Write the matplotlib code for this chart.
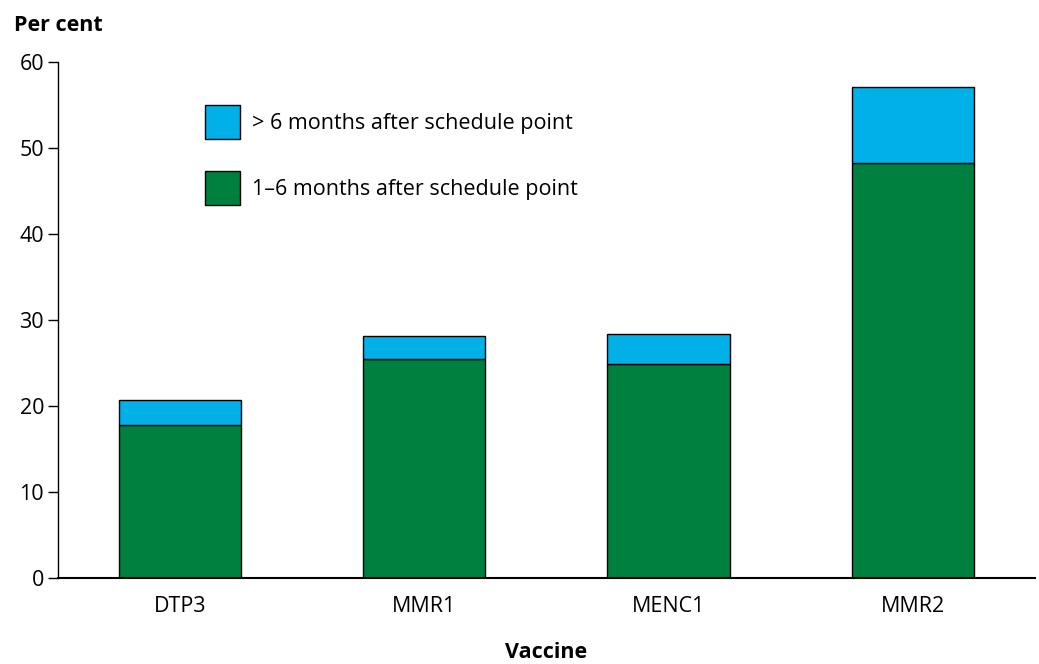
import matplotlib.pyplot as plt

plt.rcParams['font.family'] = ['Open Sans', 'DejaVu Sans']

vaccines = ['DTP3', 'MMR1', 'MENC1', 'MMR2']
late_1_6 = [17.8, 25.5, 24.9, 48.2]
late_over_6 = [2.9, 2.6, 3.5, 8.9]

green = '#00803f'
blue = '#00b0e6'

fig = plt.figure(figsize=(10.39, 6.64), dpi=100)
ax = fig.add_axes([0.0558, 0.1295, 0.9402, 0.7771])

x = range(len(vaccines))
b1 = ax.bar(x, late_1_6, width=0.5, color=green, edgecolor='black', linewidth=1)
b2 = ax.bar(x, late_over_6, width=0.5, bottom=late_1_6, color=blue,
            edgecolor='black', linewidth=1)

ax.set_xlim(-0.5, 3.5)
ax.set_ylim(0, 60)
ax.set_yticks(range(0, 61, 10))
ax.set_xticks(list(x))
ax.set_xticklabels(vaccines)
ax.tick_params(axis='y', length=7, width=1, labelsize=15.5, pad=3)
ax.tick_params(axis='x', length=0, labelsize=15.5, pad=13)
for s in ['top', 'right']:
    ax.spines[s].set_visible(False)
ax.spines['left'].set_linewidth(1)
ax.spines['bottom'].set_linewidth(1.5)

ax.set_xlabel('Vaccine', fontsize=15.5, fontweight='bold', labelpad=18)
fig.text(0.013, 0.962, 'Per cent', fontsize=15.5, fontweight='bold', va='center')

leg = ax.legend([b2, b1], ['> 6 months after schedule point', '1–6 months after schedule point'],
                loc='upper left', bbox_to_anchor=(0.150, 0.917), frameon=False,
                fontsize=15.5, handlelength=1.67, handleheight=2.05,
                labelspacing=1.5, handletextpad=0.55, borderaxespad=0, borderpad=0)

fig.savefig('out.png', dpi=100)
